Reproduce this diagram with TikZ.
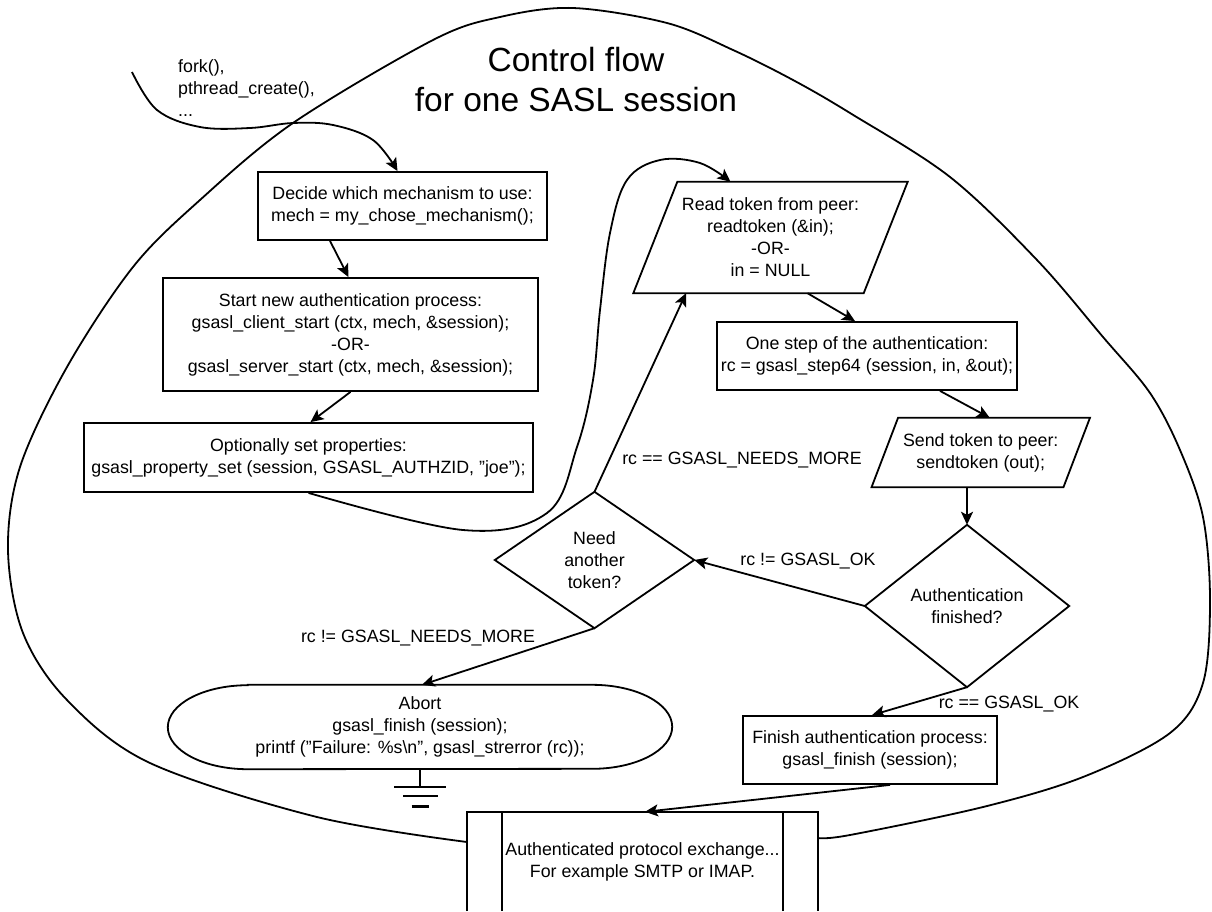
\documentclass[tikz,border=0pt]{standalone}
\usepackage{fontspec}
\setmainfont{Liberation Sans}
\usetikzlibrary{arrows.meta}
\newcommand{\dq}{\symbol{34}}
\begin{document}
\begin{tikzpicture}[x=1pt,y=-1pt,
  every node/.style={font=\fontsize{17.8}{22}\selectfont, inner sep=0pt},
  ln/.style={line width=1.8pt},
  box/.style={draw, ln, rectangle, align=center},
  frame/.style={rectangle, align=center},
  arr/.style={ln, -{Stealth[length=13pt,width=12pt,inset=3pt]}},
]
\useasboundingbox (0,0) rectangle (1212,911);

% enclosing session loop
\draw[ln] plot[smooth, tension=0.55] coordinates {(467,842) (317,817) (150,763) (67,700) (23,633) (8,550) (20,467) (67,367) (133,267) (200,200) (293,123) (433,40) (500,17) (573,8) (667,23) (733,50) (793,80) (850,113) (950,177) (1037,260) (1103,337) (1150,393) (1180,450) (1203,517) (1210,600) (1203,683) (1170,733) (1083,777) (983,807) (850,835) (818,838)};

% title
\node[anchor=north, align=center, font=\fontsize{33.5}{40}\selectfont] (title) at (576,47.5) {Control flow\\for one SASL session};

% fork text
\node[anchor=north west, align=left] (forktxt) at (178,59) {fork(),\\pthread\_create(),\\...};

% boxes
\node[box, minimum width=289, minimum height=68] (decide) at (402.5,206) {Decide which mechanism to use:\\mech = my\_chose\_mechanism();};
\node[box, minimum width=375, minimum height=113] (start) at (350.5,334.5) {Start new authentication process:\\gsasl\_client\_start (ctx, mech, \&session);\\-OR-\\gsasl\_server\_start (ctx, mech, \&session);};
\node[box, minimum width=449, minimum height=69] (opt) at (308.5,457.5) {Optionally set properties:\\gsasl\_property\_set (session, GSASL\_AUTHZID, \dq joe\dq);};
\node[box, minimum width=300, minimum height=68] (step) at (867,356) {One step of the authentication:\\rc = gsasl\_step64 (session, in, \&out);};
\node[box, minimum width=254, minimum height=68] (finish) at (870,750) {Finish authentication process:\\gsasl\_finish (session);};

% parallelograms
\node[frame, minimum width=230, minimum height=111] (read) at (770.5,237.5) {Read token from peer:\\readtoken (\&in);\\-OR-\\in = NULL};
\draw[ln] ([xshift=22]read.north west) -- ([xshift=22]read.north east) -- ([xshift=-22]read.south east) -- ([xshift=-22]read.south west) -- cycle;
\node[frame, minimum width=191.5, minimum height=69] (send) at (980.75,452.5) {Send token to peer:\\sendtoken (out);};
\draw[ln] ([xshift=13.25]send.north west) -- ([xshift=13.25]send.north east) -- ([xshift=-13.25]send.south east) -- ([xshift=-13.25]send.south west) -- cycle;

% diamonds
\node[frame, minimum width=199, minimum height=136] (need) at (594.5,560) {Need\\another\\token?};
\draw[ln] (need.north) -- (need.east) -- (need.south) -- (need.west) -- cycle;
\node[frame, minimum width=204, minimum height=162] (auth) at (967,606) {Authentication\\finished?};
\draw[ln] (auth.north) -- (auth.east) -- (auth.south) -- (auth.west) -- cycle;

% abort terminal
\node[frame, minimum width=504, minimum height=84] (abort) at (420,727) {Abort\\gsasl\_finish (session);\\printf (\dq Failure: \%s\textbackslash n\dq, gsasl\_strerror (rc));};
\draw[ln] ([xshift=80]abort.north west) -- ([xshift=-80]abort.north east) arc[start angle=90, end angle=-90, x radius=80pt, y radius=42pt] -- ([xshift=80]abort.south west) arc[start angle=270, end angle=90, x radius=80pt, y radius=42pt] -- cycle;

% ground
\draw[ln] (abort.south) -- ++(0,18) coordinate (gnd);
\draw[ln] (gnd) ++(-26,0) -- ++(52,0);
\draw[ln] (gnd) ++(-17,9) -- ++(35,0);
\draw[line width=2.6pt] (gnd) ++(-8.5,19) -- ++(17,0);

% protocol exchange (predefined process, cut at bottom)
\node[frame, minimum width=351, minimum height=99] (proto) at (642.5,861.5) {Authenticated protocol exchange...\\For example SMTP or IMAP.};
\draw[ln] (proto.south west) -- (proto.north west) -- (proto.north east) -- (proto.south east);
\draw[ln] ([xshift=35]proto.south west) -- ([xshift=35]proto.north west);
\draw[ln] ([xshift=-35]proto.south east) -- ([xshift=-35]proto.north east);

% connectors
\draw[arr] plot[smooth, tension=0.6] coordinates {(132,72) (157,110) (200,127) (250,128) (293,123) (333,125) (373,140) ([xshift=-5]decide.north)};
\draw[arr] ([xshift=-72.5]decide.south) -- ([xshift=-2]start.north);
\draw[arr] (start.south) -- ([xshift=2]opt.north);
\draw[arr] plot[smooth, tension=0.6] coordinates {(opt.south) (463,530) (547,513) (577,447) (593,380) (600,310) (610,233) (627,180) (660,160) (700,163) ([xshift=-40]read.north)};
\draw[arr] (need.north) -- ([xshift=-84.5]read.south);
\draw[arr] ([xshift=37]read.south) -- ([xshift=-12]step.north);
\draw[arr] ([xshift=73]step.south) -- ([xshift=9]send.north);
\draw[arr] ([xshift=-13.75]send.south) -- (auth.north);
\draw[arr] (auth.west) -- (need.east);
\draw[arr] (auth.south) -- ([xshift=2]finish.north);
\draw[arr] (need.south) -- ([xshift=2]abort.north);
\draw[arr] ([xshift=20]finish.south) -- ([xshift=2.5]proto.north);

% labels
\node (lneedmore) at (742,460) {rc == GSASL\_NEEDS\_MORE};
\node (lnotok) at (808,561) {rc != GSASL\_OK};
\node (lnotmore) at (418,638) {rc != GSASL\_NEEDS\_MORE};
\node (lok) at (1009,704) {rc == GSASL\_OK};
\end{tikzpicture}
\end{document}
